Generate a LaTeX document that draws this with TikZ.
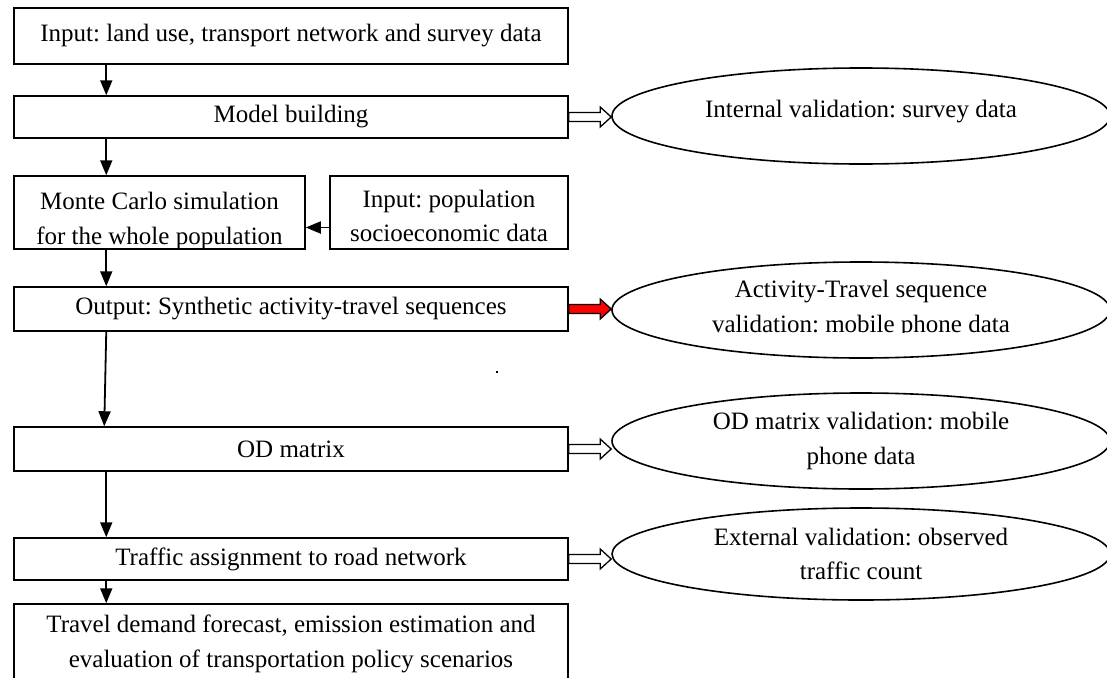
\documentclass[tikz,border=0pt]{standalone}
\usepackage{fontspec}
\setmainfont{Liberation Serif}
\usetikzlibrary{arrows.meta,shapes.geometric,calc}

% wide hollow (or filled) arrow from a box to a validation oval
\newcommand{\blockarr}[3]{%
  \draw[line width=1.3pt, line join=miter, fill=#3]
    let \p1=(#1.east), \p2=(#2.west) in
    (\x1,\y1+4.5pt) -- (\x2-11pt,\y1+4.5pt) -- (\x2-11pt,\y1+10pt) -- (\x2,\y1)
    -- (\x2-11pt,\y1-10pt) -- (\x2-11pt,\y1-4.5pt) -- (\x1,\y1-4.5pt) -- cycle;}

\begin{document}
\frenchspacing
\begin{tikzpicture}[x=1pt,y=-1pt,
  box/.style={draw, line width=1.5pt, fill=white, inner sep=0pt},
  lbl/.style={font=\fontsize{25}{34.5}\selectfont, align=center, inner sep=0pt},
  oval/.style={ellipse, draw, line width=1.6pt, fill=white, inner sep=0pt,
               minimum width=498pt, minimum height=96pt},
  down/.style={line width=1.8pt, -{Triangle[width=12pt,length=15pt]}},
]
\useasboundingbox (0,0) rectangle (1107,677);
\clip (0,0) rectangle (1107,677);

% main flow boxes
\node[box, lbl, minimum width=554pt, minimum height=56pt] (b1) at (291,36)
  {Input: land use, transport network and survey data};
\node[box, lbl, minimum width=554pt, minimum height=42pt] (mb) at (291,117)
  {Model building};
\node[box, minimum width=291pt, minimum height=73pt] (mc) at (159.5,212.5) {};
\node[box, minimum width=238pt, minimum height=73pt] (ip) at (449,212.5) {};
\begin{scope}
  \clip (mc.north west) rectangle (mc.south east);
  \node[lbl] (mct) at (159.5,221) {Monte Carlo simulation\\for the whole population};
\end{scope}
\node[lbl] (ipt) at (449,216) {Input: population\\socioeconomic data};
\node[box, lbl, minimum width=554pt, minimum height=44pt] (out) at (291,309)
  {Output: Synthetic activity-travel sequences};
\node[box, lbl, minimum width=554pt, minimum height=44pt] (od) at (291,449)
  {OD matrix};
\node[box, lbl, minimum width=554pt, minimum height=42pt] (ta) at (291,559)
  {Traffic assignment to road network};
\node[box, lbl, minimum width=554pt, minimum height=80pt] (fin) at (291,644)
  {Travel demand forecast, emission estimation and\\evaluation of transportation policy scenarios};

% validation ovals
\node[oval] (e1) at (861,116) {};
\node[lbl] (e1t) at (861,112) {Internal validation: survey data};
\node[oval] (e2) at (861,310) {};
\begin{scope}
  \clip (612,250) rectangle (1107,332);
  \node[lbl] (e2t) at (861,309) {Activity-Travel sequence\\validation: mobile phone data};
\end{scope}
\node[oval, lbl] (e3) at (861,441) {OD matrix validation: mobile\\phone data};
\node[oval, lbl, minimum height=92pt] (e4) at (861,554) {External validation: observed\\traffic count};

% flow arrows
\draw[down] ([xshift=93pt]b1.south west) -- ([xshift=93pt]mb.north west);
\draw[down] ([xshift=93pt]mb.south west) -- ([xshift=93pt]mc.north west);
\draw[down] ([yshift=-15pt]ip.west) -- ([yshift=-15pt]ip.west -| mc.east);
\draw[down] ([xshift=93pt]mc.south west) -- ([xshift=93pt]out.north west);
\draw[down] ([xshift=93pt]out.south west) -- ([xshift=91pt]od.north west);
\draw[down] ([xshift=93pt]od.south west) -- ([xshift=93pt]ta.north west);
\draw[down] ([xshift=93pt]ta.south west) -- ([xshift=93pt]fin.north west);

% validation arrows
\blockarr{mb}{e1}{white}
\blockarr{out}{e2}{red}
\blockarr{od}{e3}{white}
\blockarr{ta}{e4}{white}

% stray speck
\fill (496,371) rectangle (498,373);
\end{tikzpicture}
\end{document}
